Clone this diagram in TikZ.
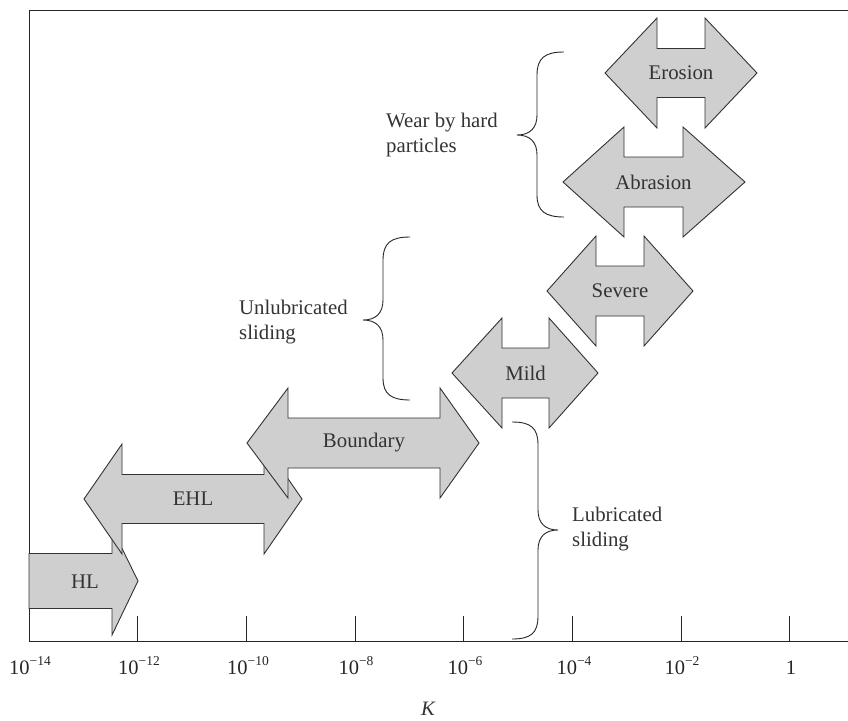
\documentclass[tikz,border=0pt]{standalone}
\usepackage{fontspec}
\setmainfont{Liberation Serif}
\newcommand\expo[1]{\raisebox{0.42em}{\fontsize{13.5}{14}\selectfont #1}}
\newcommand\mns{{\char"2212\relax}}
\begin{document}
\begin{tikzpicture}[x=1pt,y=-1pt,
  regime/.style={draw=black!80,fill=black!19,line width=0.9pt,line join=miter},
  frameline/.style={draw=black!85,line width=1pt},
  bracepath/.style={draw=black!85,line width=0.9pt},
  lbl/.style={font=\fontsize{20.8}{25}\selectfont,text=black!80,inner sep=0pt},
  ticklbl/.style={font=\fontsize{20.5}{25}\selectfont,text=black!85,inner sep=0pt,anchor=base}]
\useasboundingbox (0,0) rectangle (848,720);
\fill[white] (0,0) rectangle (848,720);
% frame
\draw[frameline] (848,10) -- (29,10) -- (29,641) -- (848,641);
% ticks
\foreach \i in {1,...,7}{\draw[frameline] ({29+108.7*\i},641) -- ({29+108.7*\i},616);}
% arrows
% HL (single right arrow)
\draw[regime] (29,553.5) -- (112,553.5) -- (112,528) -- (138,581) -- (112,635) -- (112,608.5) -- (29,608.5) -- cycle;
\node[lbl] (hl) at (85,582) {HL};
% double arrows: xl xbl xbr xr yc bh hh
\newcommand\dbl[7]{%
  \draw[regime] (#1,#5) -- (#2,#5-#7) -- (#2,#5-#6) -- (#3,#5-#6) -- (#3,#5-#7) -- (#4,#5)
    -- (#3,#5+#7) -- (#3,#5+#6) -- (#2,#5+#6) -- (#2,#5+#7) -- cycle;}
\dbl{84}{122}{264}{302}{499}{24.5}{55}
\node[lbl] (ehl) at (193,499) {EHL};
\dbl{247}{288}{440}{479}{443}{25}{55}
\node[lbl] (boundary) at (364,443) {Boundary};
\dbl{452}{502}{549}{598}{373}{25}{55}
\node[lbl] (mild) at (525.5,373) {Mild};
\dbl{547}{596}{644}{693}{291}{25}{55}
\node[lbl] (severe) at (620,291) {Severe};
\dbl{563}{624}{683}{745}{182}{25}{55}
\node[lbl] (abrasion) at (653.5,182) {Abrasion};
\dbl{605}{657}{705}{757}{73}{24.5}{55}
\node[lbl] (erosion) at (681,73) {Erosion};
% braces
\draw[bracepath] (564,52) .. controls (545,52) and (537,58) .. (537,75) -- (537,115)
  .. controls (537,128) and (530,135) .. (517,135)
  .. controls (530,135) and (537,142) .. (537,155) -- (537,195)
  .. controls (537,211) and (545,217) .. (564,217);
\draw[bracepath] (410,237) .. controls (391,237) and (383,243) .. (383,260) -- (383,300)
  .. controls (383,313) and (376,320) .. (363,320)
  .. controls (376,320) and (383,327) .. (383,340) -- (383,378)
  .. controls (383,394) and (391,400) .. (410,400);
\draw[bracepath] (512,422) .. controls (531,422) and (538,428) .. (538,445) -- (538,510)
  .. controls (538,523) and (545,530) .. (558,530)
  .. controls (545,530) and (538,537) .. (538,550) -- (538,616)
  .. controls (538,633) and (531,639) .. (512,639);
% brace texts
\node[lbl,align=left,anchor=west] (wear) at (386,134.5) {Wear by hard\\particles};
\node[lbl,align=left,anchor=west] (unlub) at (239,322) {Unlubricated\\sliding};
\node[lbl,align=left,anchor=west] (lub) at (572,529) {Lubricated\\sliding};
% tick labels
\node[ticklbl] (k14) at (30,674) {10\expo{\mns14}};
\node[ticklbl] (k12) at (139,674) {10\expo{\mns12}};
\node[ticklbl] (k10) at (248,674) {10\expo{\mns10}};
\node[ticklbl] (k8) at (356,674) {10\expo{\mns8}};
\node[ticklbl] (k6) at (465,674) {10\expo{\mns6}};
\node[ticklbl] (k4) at (574,674) {10\expo{\mns4}};
\node[ticklbl] (k2) at (682,674) {10\expo{\mns2}};
\node[ticklbl] (k0) at (791,674) {1};
\node[lbl,font=\fontsize{20.5}{25}\selectfont\itshape] (kk) at (428,709) {K};
\end{tikzpicture}
\end{document}
